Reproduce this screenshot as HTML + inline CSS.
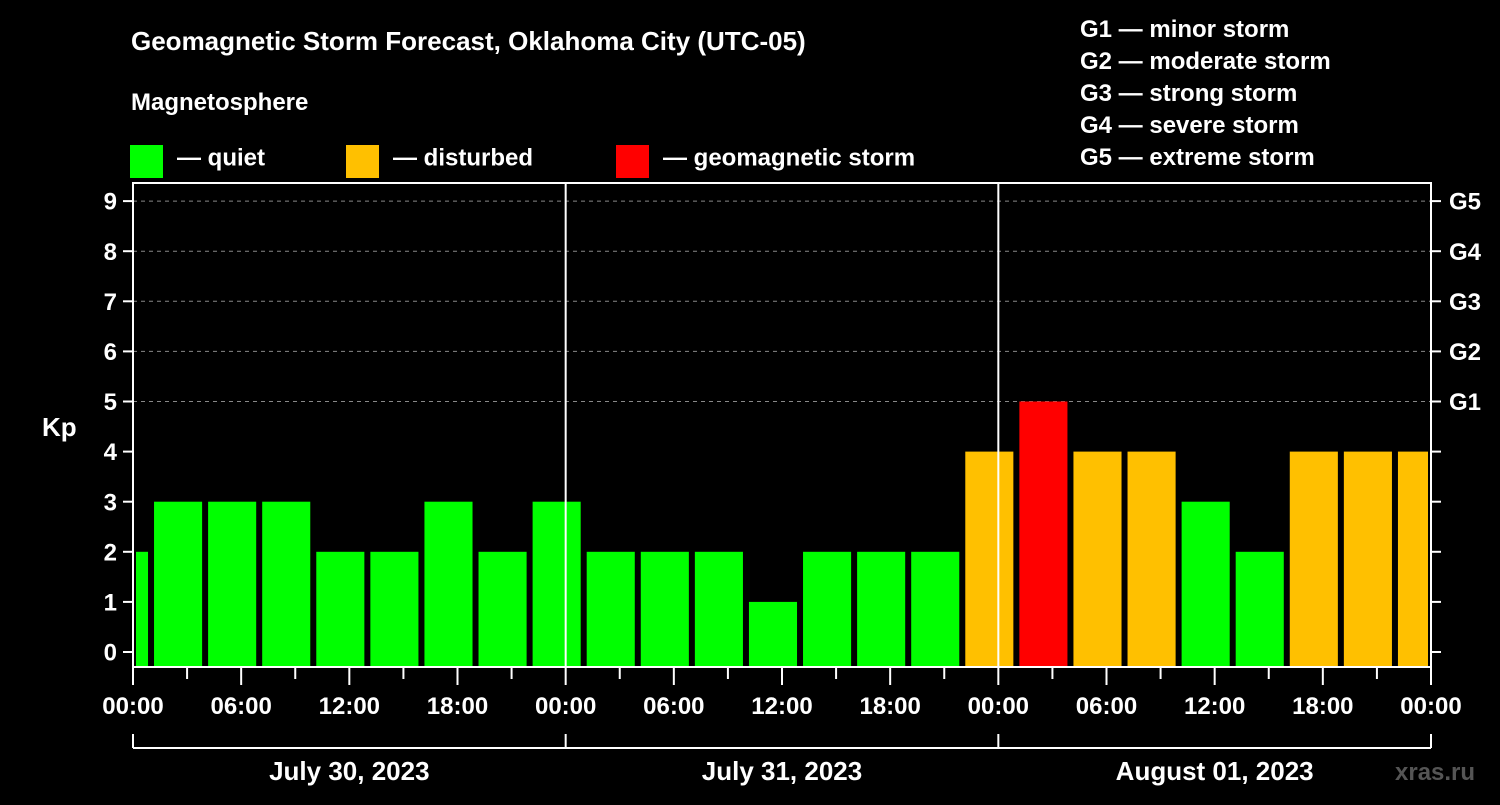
<!DOCTYPE html>
<html><head><meta charset="utf-8"><style>
body{margin:0;background:#000;width:1500px;height:800px;overflow:hidden}
text{font-family:"Liberation Sans",sans-serif;font-weight:bold;fill:#fff}
</style></head><body>
<svg id="chart" width="1500" height="800" viewBox="0 0 1500 800">
<rect width="1500" height="800" fill="#000"/>
<text x="131" y="50" font-size="26">Geomagnetic Storm Forecast, Oklahoma City (UTC-05)</text>
<text x="131" y="110" font-size="24">Magnetosphere</text>
<g><rect x="130" y="145" width="33" height="33" fill="#00ff00"/><text x="177" y="157" font-size="24" dy="0.35em">— quiet</text></g>
<g><rect x="346" y="145" width="33" height="33" fill="#ffc000"/><text x="393" y="157" font-size="24" dy="0.35em">— disturbed</text></g>
<g><rect x="616" y="145" width="33" height="33" fill="#ff0000"/><text x="663" y="157" font-size="24" dy="0.35em">— geomagnetic storm</text></g>
<g font-size="24">
<text x="1080" y="37">G1 — minor storm</text>
<text x="1080" y="69">G2 — moderate storm</text>
<text x="1080" y="101">G3 — strong storm</text>
<text x="1080" y="133">G4 — severe storm</text>
<text x="1080" y="165">G5 — extreme storm</text>
</g>
<text x="42" y="436" font-size="26">Kp</text>
<g id="plot"></g>
<text x="1395" y="780" font-size="24" fill="#555" style="fill:#555">xras.ru</text>
</svg>
<script>
const kpValues=[2,3,3,3,2,2,3,2,3, 2,2,2,1,2,2,2, 4,5,4,4,3,2,4,4,4];
const firstBarStartHour=-2;
const dayLabels=["July 30, 2023","July 31, 2023","August 01, 2023"];
const hourLabels=["00:00","06:00","12:00","18:00"];
const gLabels=["G1","G2","G3","G4","G5"];
const NS="http://www.w3.org/2000/svg";
const L=133,R=1431,T=183,B=667,totalH=72;
const x=h=>L+(R-L)*h/totalH;
const y=k=>652-50.1*k;
const g=document.getElementById('plot');
function mk(t,a,p){const e=document.createElementNS(NS,t);for(const k in a)e.setAttribute(k,a[k]);(p||g).appendChild(e);return e;}
// gridlines
for(let k=5;k<=9;k++){const l=mk('line',{x1:L,x2:R,y1:y(k),y2:y(k),stroke:'#888','stroke-dasharray':'4,4','stroke-width':1});

}
// bars
kpValues.forEach((v,i)=>{const h0=firstBarStartHour+3*i;let x0=x(h0)+3,x1=x(h0+3)-3;x0=Math.max(x0,L+3);x1=Math.min(x1,R-3);
const c=v>=5?'#ff0000':v>=4?'#ffc000':'#00ff00';
const r=mk('rect',{x:x0,y:y(v),width:x1-x0,height:B-y(v),fill:c});

});
// day separators
for(let d=1;d<3;d++){const l=mk('line',{x1:x(24*d),x2:x(24*d),y1:T,y2:B,stroke:'#fff','stroke-width':2});

}
// frame
const f=mk('rect',{x:L,y:T,width:R-L,height:B-T,fill:'none',stroke:'#fff','stroke-width':2});


// y ticks
for(let k=0;k<=9;k++){
mk('line',{x1:L-10,x2:L,y1:y(k),y2:y(k),stroke:'#fff','stroke-width':2});
mk('line',{x1:R,x2:R+10,y1:y(k),y2:y(k),stroke:'#fff','stroke-width':2});
const t=mk('text',{x:L-16,y:y(k),'font-size':24,'text-anchor':'end',dy:'0.36em'});t.textContent=k;

}
gLabels.forEach((s,i)=>{const t=mk('text',{x:R+18,y:y(5+i),'font-size':24,dy:'0.36em'});t.textContent=s;

});
// x ticks
for(let h=0;h<=totalH;h+=3){const major=h%6===0;mk('line',{x1:x(h),x2:x(h),y1:B,y2:B+(major?18:12),stroke:'#fff','stroke-width':2});
if(major){const t=mk('text',{x:x(h),y:714,'font-size':24,'text-anchor':'middle'});t.textContent=hourLabels[(h%24)/6];

}}
// date bracket
mk('line',{x1:L,x2:R,y1:748,y2:748,stroke:'#fff','stroke-width':2});
for(let d=0;d<=3;d++)mk('line',{x1:x(24*d),x2:x(24*d),y1:734,y2:748,stroke:'#fff','stroke-width':2});
dayLabels.forEach((s,i)=>{const t=mk('text',{x:x(24*i+12),y:780,'font-size':26,'text-anchor':'middle'});t.textContent=s;

});
</script>
</body></html>
